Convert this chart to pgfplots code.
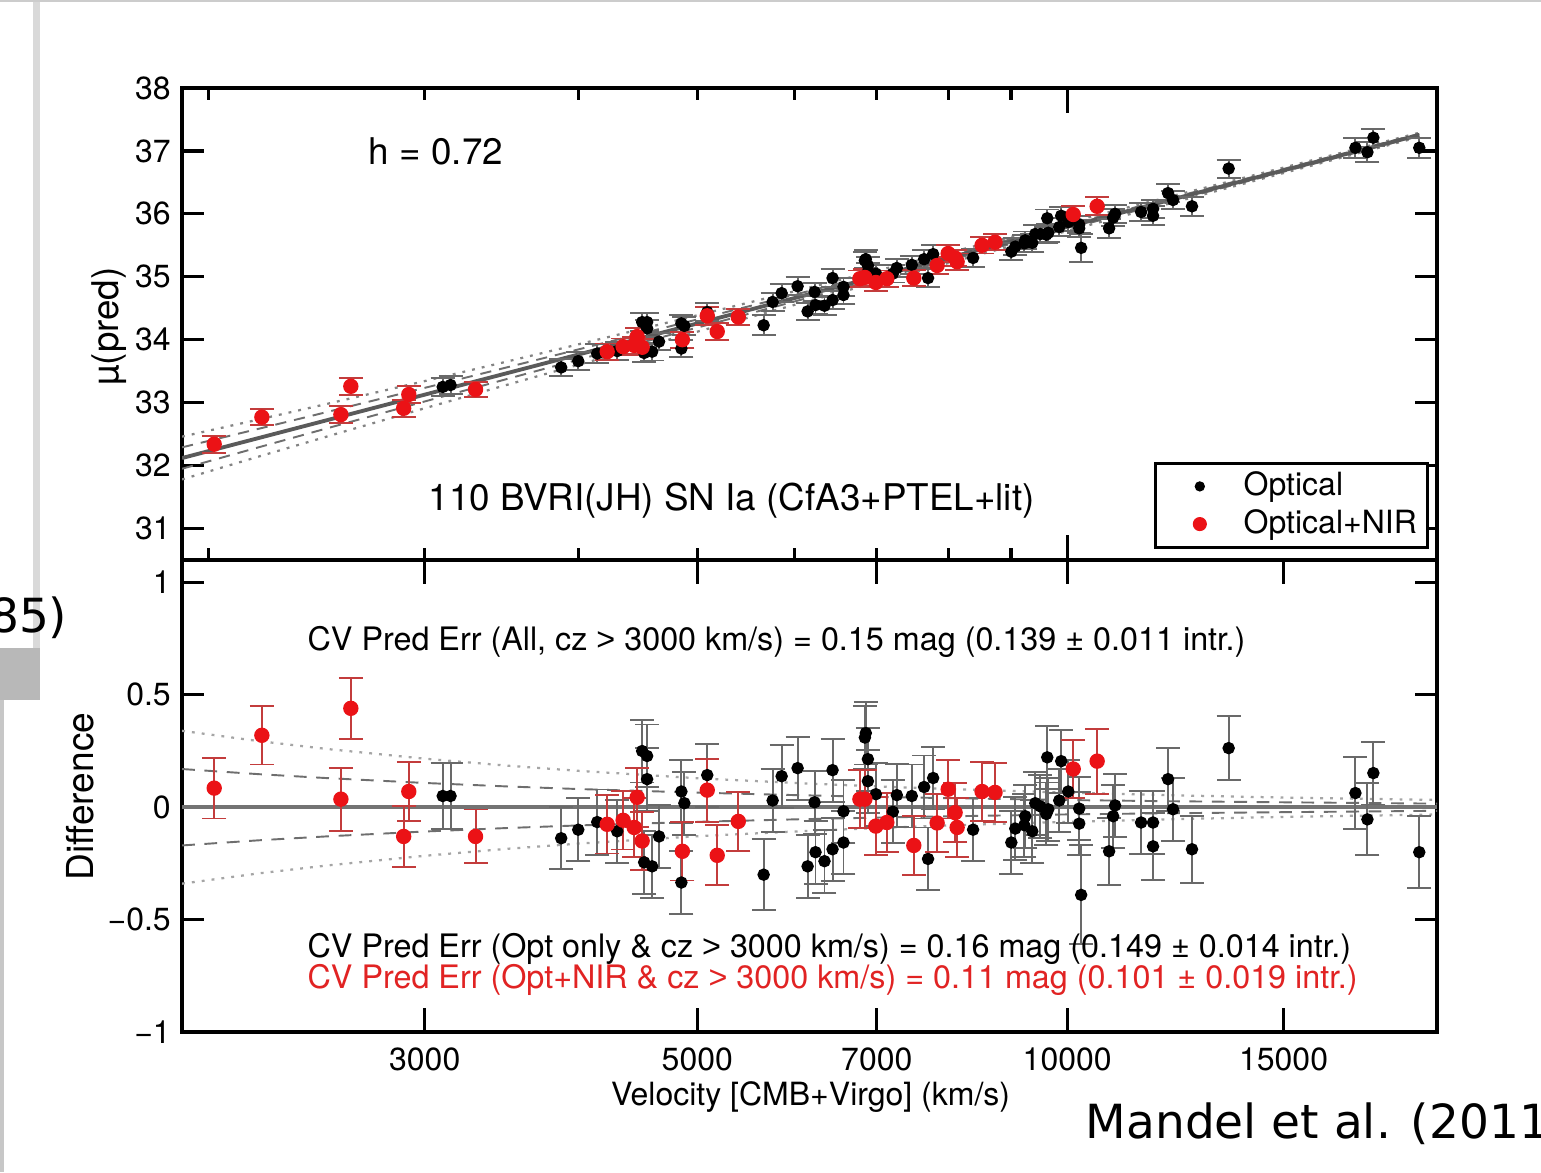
\documentclass[border=0pt]{standalone}
\usepackage{fontspec}
\setmainfont{TeX Gyre Heros}
\newfontfamily\dejavu{DejaVu Sans}
\newfontfamily\arial{Liberation Sans}
\usepackage{pgfplots}
\pgfplotsset{compat=1.18}
\usepackage{pgfplotstable}

\definecolor{ptred}{RGB}{235,18,22}
\definecolor{errred}{RGB}{195,60,60}
\definecolor{txtred}{RGB}{225,35,35}
\definecolor{errgray}{RGB}{105,105,105}
\definecolor{linegray}{RGB}{90,90,90}
\definecolor{dashgray}{RGB}{110,110,110}
\definecolor{dotgray}{RGB}{165,165,165}
\newcommand{\gt}{{\arial >}}

% v = velocity (km/s), mu = mu(pred), diff = difference, err = error
\pgfplotstableread{
v mu diff err
3103 33.25 0.05 0.147
3149 33.28 0.05 0.147
3875 33.56 -0.138 0.137
4000 33.66 -0.10 0.14
4145 33.78 -0.066 0.145
4303 33.82 -0.107 0.14
4509 34.28 0.25 0.14
4551 34.28 0.228 0.14
4551 34.18 0.125 0.14
4526 33.79 -0.245 0.14
4594 33.81 -0.263 0.14
4654 33.97 -0.13 0.14
4853 34.26 0.07 0.14
4880 34.22 0.018 0.14
4853 33.86 -0.335 0.14
5094 34.44 0.143 0.14
5662 34.23 -0.30 0.157
5758 34.60 0.03 0.14
5856 34.74 0.138 0.14
6034 34.85 0.174 0.14
6229 34.76 0.022 0.14
6442 34.98 0.165 0.14
6148 34.45 -0.263 0.14
6240 34.55 -0.20 0.14
6346 34.54 -0.24 0.14
6442 34.63 -0.187 0.14
6576 34.84 -0.018 0.14
6576 34.71 -0.157 0.14
6857 35.28 0.33 0.14
6845 35.26 0.31 0.14
6883 35.18 0.214 0.14
6883 35.08 0.116 0.14
6987 35.05 0.058 0.14
7213 35.05 -0.02 0.14
7267 35.14 0.054 0.14
7474 35.19 0.05 0.14
7649 35.28 0.09 0.14
7779 35.36 0.13 0.14
7706 34.98 -0.23 0.14
8383 35.30 -0.10 0.14
9006 35.40 -0.157 0.14
9073 35.48 -0.095 0.14
9244 35.58 -0.04 0.14
9227 35.53 -0.08 0.14
9366 35.54 -0.107 0.14
9419 35.68 0.018 0.14
9508 35.68 0.004 0.14
9615 35.67 -0.03 0.14
9651 35.70 -0.009 0.14
9633 35.93 0.222 0.14
9888 35.97 0.205 0.14
9852 35.79 0.03 0.14
10019 35.87 0.07 0.14
10227 35.83 -0.006 0.14
10227 35.77 -0.073 0.14
10265 35.46 -0.39 0.22
10939 36.00 0.008 0.14
10899 35.94 -0.04 0.14
10817 35.77 -0.196 0.15
11485 36.03 -0.068 0.14
11745 36.08 -0.068 0.14
11745 35.97 -0.174 0.15
12080 36.33 0.125 0.14
12193 36.22 -0.009 0.14
12634 36.12 -0.187 0.15
13533 36.72 0.263 0.143
17163 37.05 0.063 0.16
17750 37.21 0.152 0.14
17552 36.98 -0.054 0.16
19345 37.05 -0.2 0.16
}\blacktab

\pgfplotstableread{
v mu diff err
2022 32.34 0.085 0.135
2211 32.77 0.32 0.13
2564 32.81 0.036 0.14
2612 33.26 0.44 0.135
2884 32.91 -0.13 0.135
2912 33.13 0.07 0.13
3300 33.21 -0.13 0.12
4223 33.81 -0.076 0.13
4351 33.89 -0.058 0.13
4442 33.91 -0.09 0.13
4467 34.05 0.044 0.13
4509 33.88 -0.15 0.13
4862 34.00 -0.196 0.13
5094 34.38 0.076 0.14
5190 34.13 -0.214 0.134
5399 34.36 -0.063 0.13
6781 34.97 0.036 0.13
6845 34.99 0.036 0.13
6987 34.91 -0.084 0.13
7132 34.97 -0.068 0.13
7502 34.98 -0.17 0.13
7837 35.18 -0.07 0.13
8000 35.37 0.08 0.13
8105 35.30 -0.024 0.13
8136 35.24 -0.09 0.13
8525 35.50 0.07 0.13
8735 35.55 0.066 0.13
10113 35.99 0.17 0.13
10577 36.12 0.205 0.145
}\redtab

\begin{document}
\begin{tikzpicture}[font=\fontsize{10}{12}\selectfont]
\useasboundingbox (0,0) rectangle (481.5625pt,366.25pt);
\fill[white] (0,0) rectangle (481.5625pt,366.25pt);
% slide decorations
\fill[black!20] (0,365.6pt) rectangle (481.5625pt,366.25pt);
\fill[black!15] (10.3pt,163.75pt) rectangle (12.5pt,365.6pt);
\fill[black!28] (0,147.5pt) rectangle (12.5pt,163.75pt);
\fill[black!22] (0,0) rectangle (1.3pt,147.5pt);

% ---------------- top panel ----------------
\begin{axis}[scale only axis, width=392.1875pt, height=147.5pt,
  at={(56.875pt,191.25pt)}, anchor=south west,
  xmode=log, xmin=1904, xmax=20000,
  ymin=30.5, ymax=38,
  axis line style={line width=1.1pt},
  tick style={black, line width=1pt},
  tick align=inside,
  minor tick length=0pt,
  tick label style={font=\fontsize{10}{12}\selectfont},
  ytick={31,32,33,34,35,36,37,38}, yticklabels={31,32,33,34,35,36,37,38},
  xtick={2000,3000,4000,5000,6000,7000,8000,9000}, xticklabels={},
  major tick length=3.75pt,
  ytick style={/pgfplots/major tick length=6.9pt},
  extra x ticks={10000}, extra x tick labels={},
  extra x tick style={major tick length=7.8pt},
  legend style={at={(0.7745,0.0233)}, anchor=south west, draw=black,
    line width=1pt, inner xsep=1.3pt, inner ysep=1.4pt, row sep=0pt,
    font=\fontsize{10}{12}\selectfont,
    nodes={inner xsep=2pt, inner ysep=1.4pt}},
  legend cell align=left,
  legend image code/.code={\draw[#1, line width=0.4pt] plot coordinates {(0pt,0pt)}; \path (-12pt,0pt) (11.2pt,0pt);},
]
\addplot[forget plot, dotgray!80!black, dash pattern=on 0.9pt off 2.2pt, line width=0.7pt] coordinates {(1904,32.460) (2200,32.734) (2500,32.982) (3000,33.343) (3500,33.653) (4000,33.926) (5000,34.388) (6000,34.770) (7000,35.097) (8000,35.380) (10000,35.859) (12000,36.251) (15000,36.735) (19345,37.289)};
\addplot[forget plot, dotgray!80!black, dash pattern=on 0.9pt off 2.2pt, line width=0.7pt] coordinates {(1904,31.780) (2200,32.146) (2500,32.464) (3000,32.911) (3500,33.283) (4000,33.602) (5000,34.128) (6000,34.554) (7000,34.912) (8000,35.218) (10000,35.729) (12000,36.143) (15000,36.649) (19345,37.222)};
\addplot[forget plot, dashgray, dash pattern=on 3.5pt off 2.5pt, line width=0.6pt] coordinates {(1904,32.290) (2200,32.587) (2500,32.853) (3000,33.235) (3500,33.561) (4000,33.845) (5000,34.323) (6000,34.716) (7000,35.050) (8000,35.340) (10000,35.826) (12000,36.224) (15000,36.714) (19345,37.272)};
\addplot[forget plot, dashgray, dash pattern=on 3.5pt off 2.5pt, line width=0.6pt] coordinates {(1904,31.950) (2200,32.293) (2500,32.594) (3000,33.019) (3500,33.376) (4000,33.683) (5000,34.193) (6000,34.608) (7000,34.958) (8000,35.259) (10000,35.762) (12000,36.170) (15000,36.670) (19345,37.238)};
\addplot[forget plot, linegray, line width=1.2pt] coordinates {(1904,32.12) (19345,37.255)};
\addplot[forget plot, only marks, mark=*, mark size=1.75pt, black,
  error bars/y dir=both, error bars/y explicit,
  error bars/error bar style={errgray, line width=0.6pt, solid},
  error bars/error mark options={rotate=90, errgray, mark size=3.75pt, line width=0.6pt}]
  table[x=v, y=mu, y error=err] {\blacktab};
\addplot[forget plot, only marks, mark=*, mark size=2.2pt, ptred,
  error bars/y dir=both, error bars/y explicit,
  error bars/error bar style={errred, line width=0.6pt, solid},
  error bars/error mark options={rotate=90, errred, mark size=3.75pt, line width=0.6pt}]
  table[x=v, y=mu, y error=err] {\redtab};
\addlegendimage{only marks, mark=*, mark size=1.4pt, black}
\addlegendentry{Optical}
\addlegendimage{only marks, mark=*, mark size=2pt, ptred}
\addlegendentry{Optical+NIR}
\end{axis}

% ---------------- bottom panel ----------------
\begin{axis}[scale only axis, width=392.1875pt, height=147.5pt,
  at={(56.875pt,43.75pt)}, anchor=south west,
  xmode=log, xmin=1904, xmax=20000,
  ymin=-1, ymax=1.1,
  axis line style={line width=1.1pt},
  tick style={black, line width=1pt},
  tick align=inside,
  minor tick length=0pt,
  tick label style={font=\fontsize{10}{12}\selectfont},
  ytick={-1,-0.5,0,0.5,1}, yticklabels={−1,−0.5,0,0.5,1},
  xtick={3000,5000,7000,10000,15000}, xticklabels={3000,5000,7000,10000,15000},
  major tick length=7.5pt,
  ytick style={/pgfplots/major tick length=6.9pt},
  xticklabel style={yshift=-1.4pt},
]
\addplot[dotgray, dash pattern=on 0.9pt off 2.2pt, line width=0.7pt] coordinates {(1904,0.340) (2200,0.294) (2500,0.259) (3000,0.216) (3500,0.185) (4000,0.162) (5000,0.129) (6000,0.108) (7000,0.0925) (8000,0.081) (10000,0.065) (12000,0.054) (15000,0.043) (20000,0.0324)};
\addplot[dotgray, dash pattern=on 0.9pt off 2.2pt, line width=0.7pt] coordinates {(1904,-0.340) (2200,-0.294) (2500,-0.259) (3000,-0.216) (3500,-0.185) (4000,-0.162) (5000,-0.129) (6000,-0.108) (7000,-0.0925) (8000,-0.081) (10000,-0.065) (12000,-0.054) (15000,-0.043) (20000,-0.0324)};
\addplot[dashgray, dash pattern=on 4pt off 3pt, line width=0.6pt] coordinates {(1904,0.170) (2200,0.147) (2500,0.1295) (3000,0.108) (3500,0.0925) (4000,0.081) (5000,0.065) (6000,0.054) (7000,0.046) (8000,0.0405) (10000,0.032) (12000,0.027) (15000,0.022) (20000,0.016)};
\addplot[dashgray, dash pattern=on 4pt off 3pt, line width=0.6pt] coordinates {(1904,-0.170) (2200,-0.147) (2500,-0.1295) (3000,-0.108) (3500,-0.0925) (4000,-0.081) (5000,-0.065) (6000,-0.054) (7000,-0.046) (8000,-0.0405) (10000,-0.032) (12000,-0.027) (15000,-0.022) (20000,-0.016)};
\addplot[linegray!85!white, line width=1.3pt] coordinates {(1904,0) (20000,0)};
\addplot[only marks, mark=*, mark size=1.75pt, black,
  error bars/y dir=both, error bars/y explicit,
  error bars/error bar style={errgray, line width=0.6pt, solid},
  error bars/error mark options={rotate=90, errgray, mark size=3.75pt, line width=0.6pt}]
  table[x=v, y=diff, y error=err] {\blacktab};
\addplot[only marks, mark=*, mark size=2.2pt, ptred,
  error bars/y dir=both, error bars/y explicit,
  error bars/error bar style={errred, line width=0.6pt, solid},
  error bars/error mark options={rotate=90, errred, mark size=3.75pt, line width=0.6pt}]
  table[x=v, y=diff, y error=err] {\redtab};
\end{axis}

% ---------------- texts ----------------
\node[font=\fontsize{11.5}{13.8}\selectfont, inner sep=0] at (136.25pt,319pt) {h = 0.72};
\node[font=\fontsize{11.5}{13.8}\selectfont, inner sep=0] at (228.6pt,209.8pt) {110 BVRI(JH) SN Ia (CfA3+PTEL+lit)};
\node[anchor=west, inner sep=0, font=\fontsize{10.1}{12}\selectfont] at (95.94pt,165.7pt) {CV Pred Err (All, cz \gt{} 3000 km/s) = 0.15 mag (0.139 ± 0.011 intr.)};
\node[anchor=west, inner sep=0, font=\fontsize{10.1}{12}\selectfont] at (95.94pt,69.6pt) {CV Pred Err (Opt only \& cz \gt{} 3000 km/s) = 0.16 mag (0.149 ± 0.014 intr.)};
\node[anchor=west, inner sep=0, text=txtred, font=\fontsize{10.1}{12}\selectfont] at (95.94pt,59.9pt) {CV Pred Err (Opt+NIR \& cz \gt{} 3000 km/s) = 0.11 mag (0.101 ± 0.019 intr.)};
\node[inner sep=0] at (253.3pt,23.4pt) {Velocity [CMB+Virgo] (km/s)};
\node[rotate=90, inner sep=0, font=\fontsize{11.5}{13}\selectfont] at (34pt,264.2pt) {µ(pred)};
\node[rotate=90, inner sep=0, font=\fontsize{11.6}{13}\selectfont] at (25.2pt,117.3pt) {Difference};
\node[anchor=west, inner sep=0, font=\dejavu\fontsize{14.7}{17}\selectfont] at (339.1pt,15.2pt) {Mandel et al. (2011};
\node[anchor=east, inner sep=0, font=\dejavu\fontsize{14.7}{17}\selectfont] at (21.25pt,173.2pt) {85)};
\end{tikzpicture}
\end{document}
